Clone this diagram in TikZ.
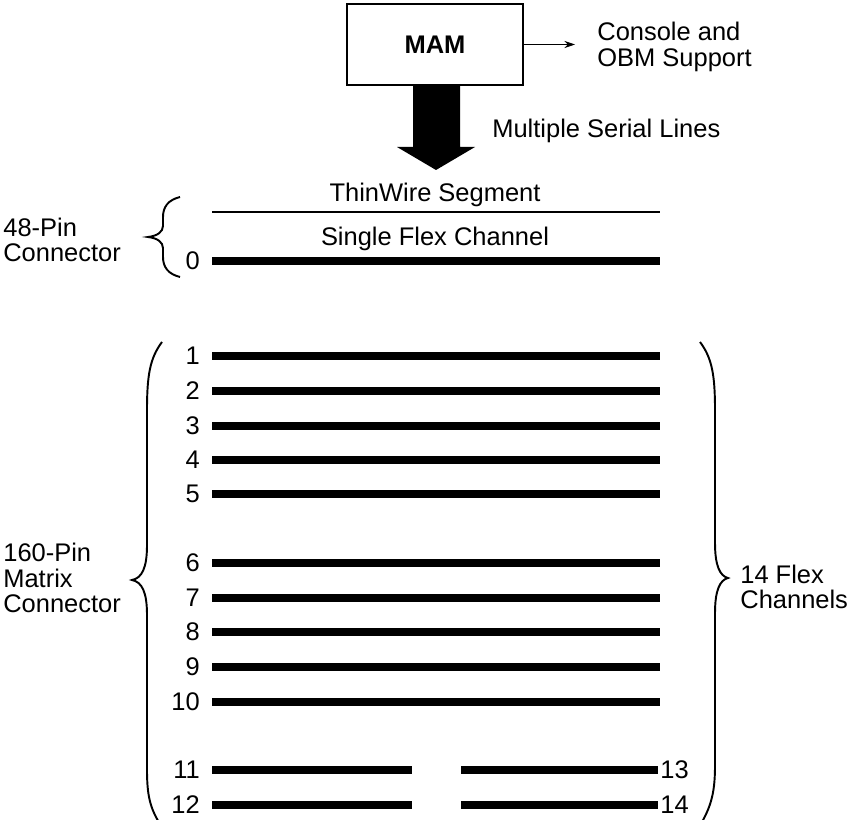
\documentclass[tikz,border=0pt]{standalone}
\usepackage{fontspec}
\setmainfont{Liberation Sans}
\usetikzlibrary{positioning,arrows.meta}

\begin{document}
\begin{tikzpicture}[x=0.02cm, y=-0.02cm,
    every node/.style={font=\fontsize{14.5}{14.5}\selectfont},
    flex/.style={line width=4pt},
    thin/.style={line width=1.1pt},
    brc/.style={line width=1.1pt}]

    \useasboundingbox (0,0) rectangle (851,820);

    % MAM box
    \node[draw, line width=1.4pt, minimum width=3.52cm, minimum height=1.62cm,
          font=\fontsize{14.5}{14.5}\selectfont\bfseries] (mam) at (435,44.5) {MAM};

    % console and OBM
    \node[align=left, anchor=west, inner xsep=0pt] (console) at (597,47) {Console and\\OBM Support};
    \draw[-{Stealth[length=6pt,width=4pt]}, line width=0.6pt, shorten >=0.44cm] (mam.east) -- (mam.east -| console.west);

    % serial lines
    \coordinate (busTip) at (436,170);
    \fill (413,85) -- (460,85) -- (460,147) -- (475,147) -- (busTip) -- (397,147) -- (413,147) -- cycle;
    \node[anchor=base west, inner xsep=0pt] (serial) at (492,138) {Multiple Serial Lines};

    % ThinWire segment
    \coordinate (tw0) at (212,212);
    \coordinate (tw1) at (660,212);
    \draw[thin] (tw0) -- (tw1);
    \node[anchor=base] (twlabel) at (435,202) {ThinWire Segment};
    \node[anchor=base] (sfc) at (435,246) {Single Flex Channel};

    % full channels
    \foreach \i/\y in {0/261,1/356,2/391,3/426,4/460,5/494,6/563,7/598,8/632,9/667,10/702} {
        \coordinate (a\i) at (212,\y);
        \coordinate (b\i) at (660,\y);
        \draw[flex] (a\i) -- (b\i);
        \node[left=0.12cm of a\i] (n\i) {\i};
    }

    % split channels
    \foreach \i/\j/\y in {11/13/770,12/14/805} {
        \coordinate (a\i) at (212,\y);
        \coordinate (b\i) at (412,\y);
        \coordinate (a\j) at (461,\y);
        \coordinate (b\j) at (658,\y);
        \draw[flex] (a\i) -- (b\i);
        \draw[flex] (a\j) -- (b\j);
        \node[left=0.12cm of a\i] (n\i) {\i};
        \node[right=0.04cm of b\j, inner xsep=0pt] (n\j) {\j};
    }

    % 48-pin
    \draw[brc] (180,197) .. controls (168,200) and (163,207) .. (163,217) -- (163,226)
        .. controls (163,232) and (157,236) .. (148,237) .. controls (157,238) and (163,242) .. (163,248)
        -- (163,257) .. controls (163,267) and (168,274) .. (180,277);
    \node[align=left, anchor=west, inner xsep=0pt] (pin48) at (3,240) {48-Pin\\Connector};

    % 160-pin
    \draw[brc] (162,342) .. controls (150,358) and (147,375) .. (147,410) -- (147,545)
        .. controls (147,568) and (142,578) .. (132,580) .. controls (142,582) and (147,592) .. (147,615)
        -- (147,770) .. controls (147,795) and (150,808) .. (160,824);
    \node[align=left, anchor=west, inner xsep=0pt] (pin160) at (3,578) {160-Pin\\Matrix\\Connector};

    % 14 flex
    \draw[brc] (700,342) .. controls (712,358) and (715,375) .. (715,410) -- (715,543)
        .. controls (715,566) and (720,576) .. (728,578) .. controls (720,580) and (715,590) .. (715,613)
        -- (715,765) .. controls (715,790) and (712,804) .. (702,822);
    \node[align=left, anchor=west, inner xsep=0pt] (chan) at (740,587) {14 Flex\\Channels};

\end{tikzpicture}
\end{document}
